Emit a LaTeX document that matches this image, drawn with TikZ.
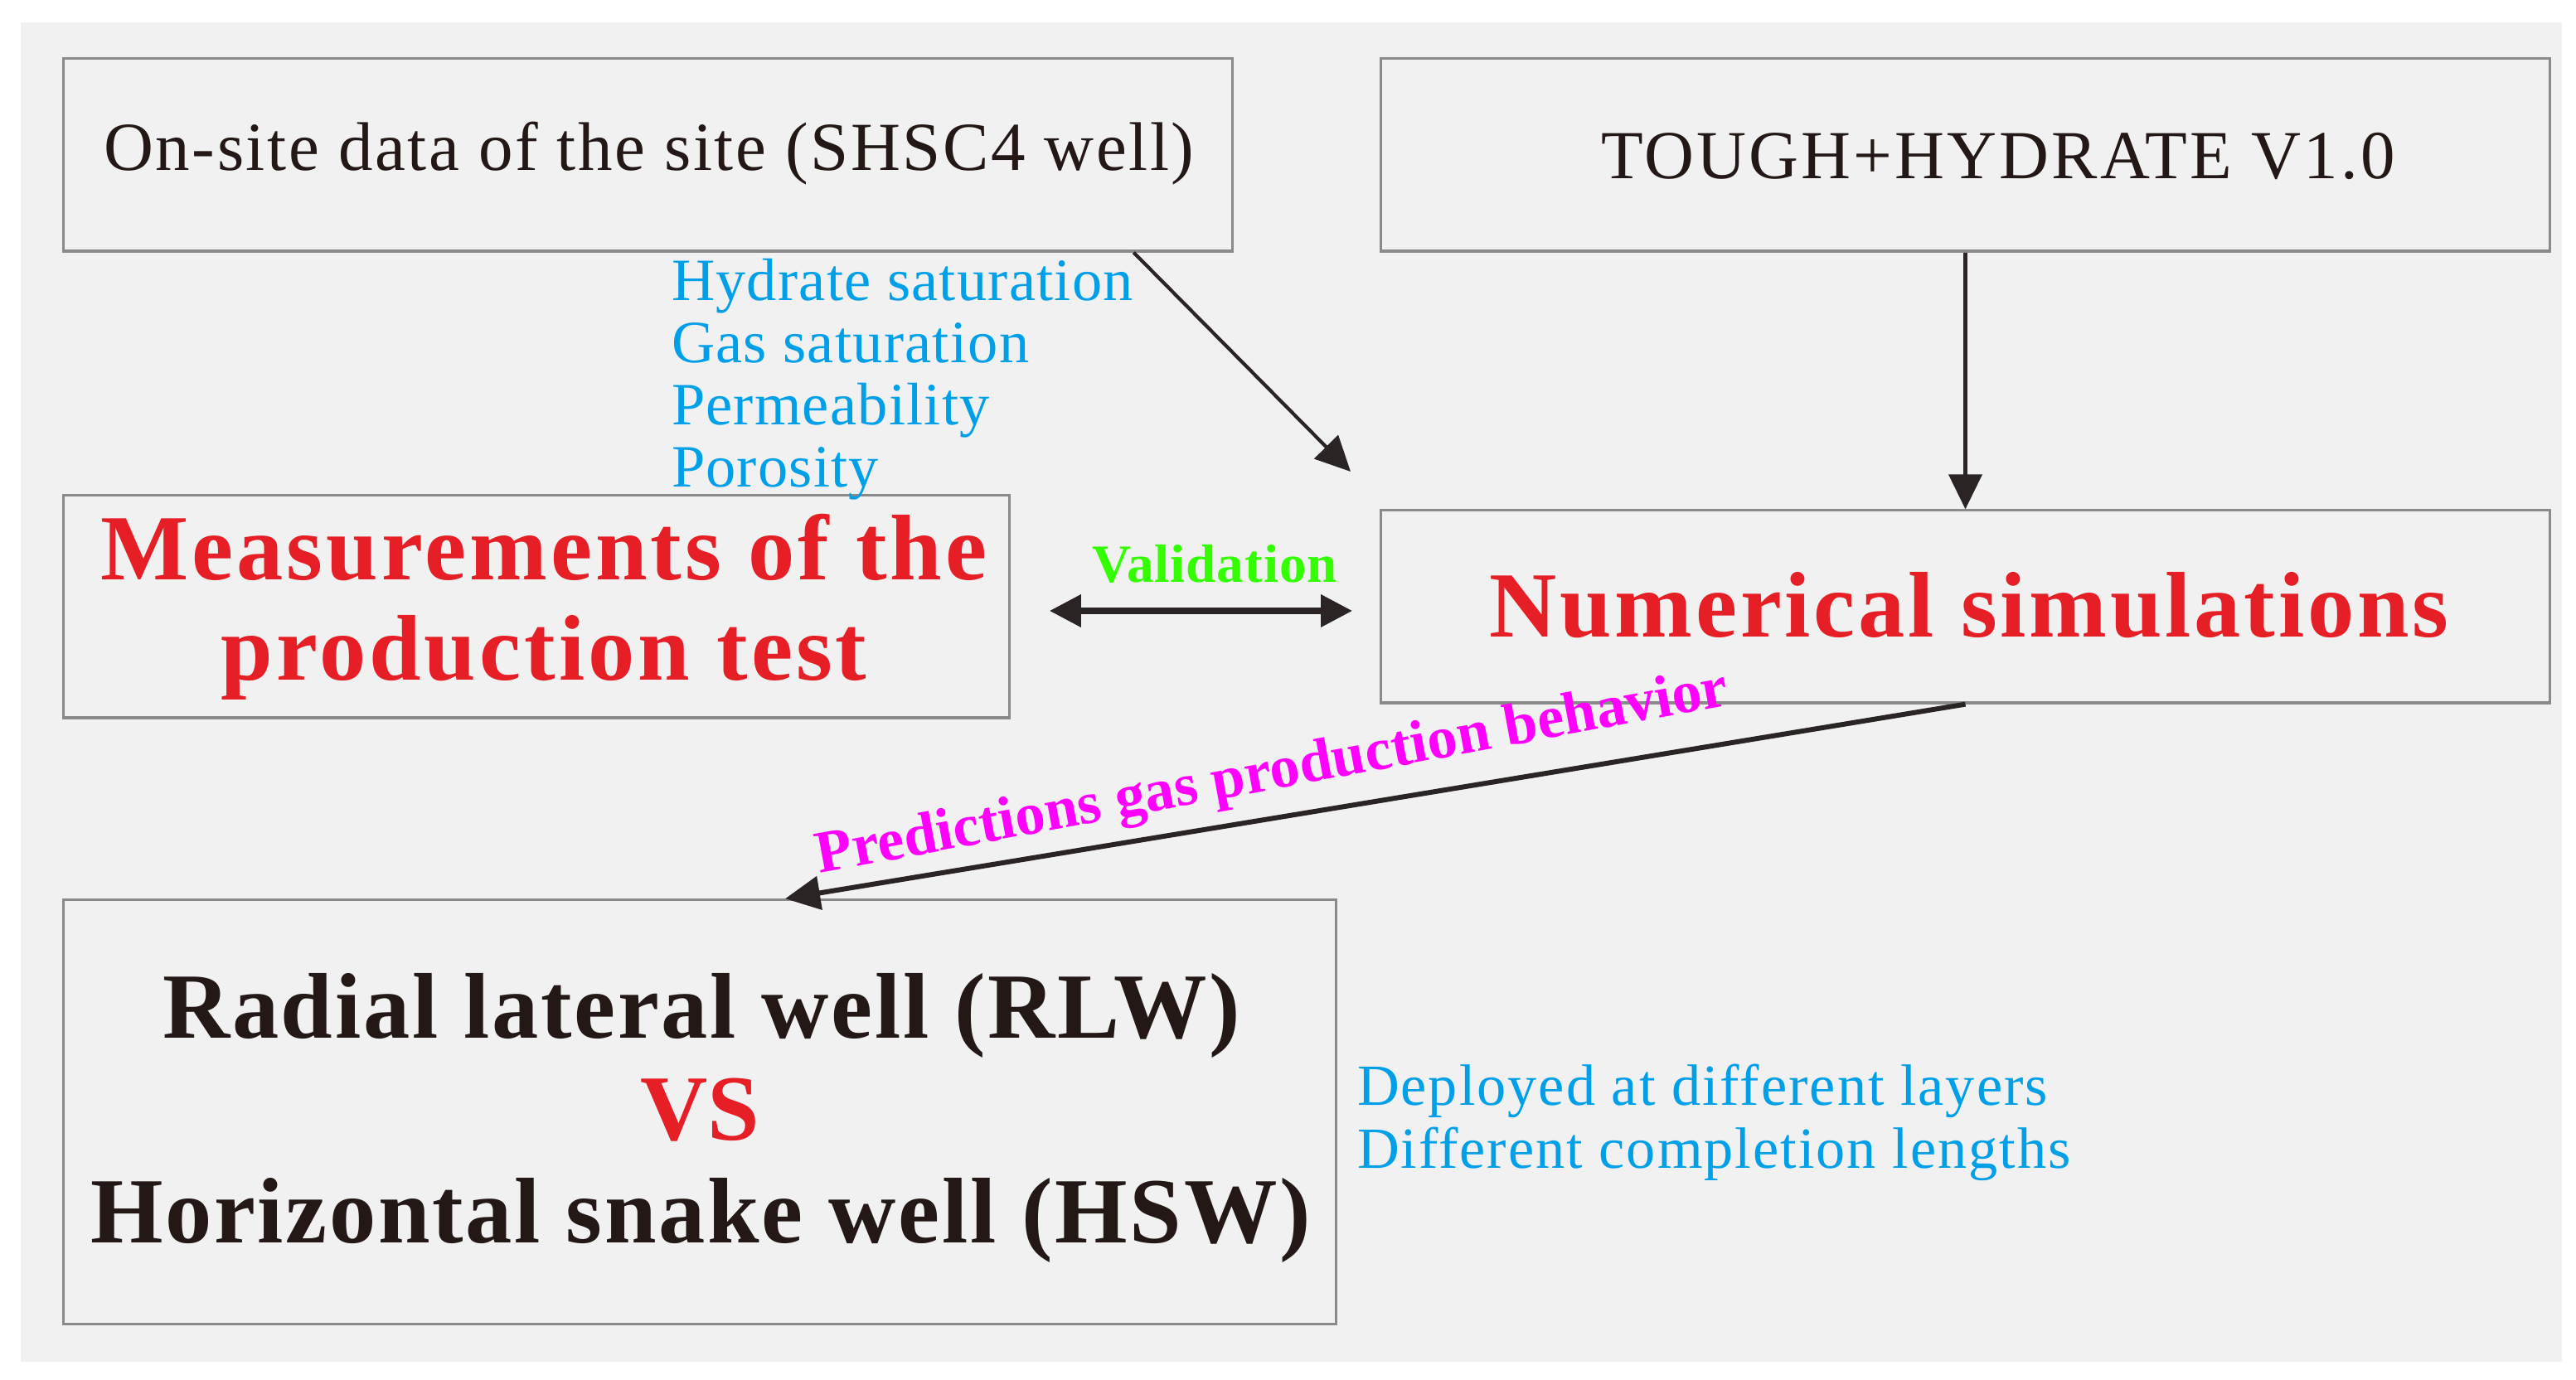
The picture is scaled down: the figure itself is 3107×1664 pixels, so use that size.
\documentclass[tikz,border=0pt]{standalone}
\usepackage{fontspec}
\setmainfont{Liberation Serif}
\usetikzlibrary{arrows.meta,calc}
\definecolor{bluet}{HTML}{00A0E9}
\definecolor{redt}{HTML}{E61F26}
\definecolor{darkt}{HTML}{231815}
\definecolor{greent}{HTML}{33FF00}
\definecolor{magt}{HTML}{FF00FF}
\definecolor{arrowc}{HTML}{2B2424}
\definecolor{boxline}{HTML}{8A8A8A}
\definecolor{panelA}{HTML}{F1F1F1}
\definecolor{panelB}{HTML}{FBFBFB}
\tikzset{
  box/.style={draw=boxline, line width=0.9pt, inner sep=0pt},
  txt/.style={anchor=base, inner sep=0pt, outer sep=0pt},
  lefttxt/.style={anchor=base west, inner sep=0pt, outer sep=0pt},
  smalltxt/.style={font=\fontsize{23.6}{28}\selectfont, text=darkt},
  bigred/.style={font=\fontsize{32}{36}\selectfont\bfseries\addfontfeature{LetterSpace=3.6}, text=redt},
  bigdark/.style={font=\fontsize{32}{36}\selectfont\bfseries\addfontfeature{LetterSpace=2.4}, text=darkt},
  bluenote/.style={font=\fontsize{20.6}{24}\selectfont\addfontfeature{LetterSpace=1.7}, text=bluet},
  conn/.style={draw=arrowc, line width=1.2pt, -{Triangle[length=0.42cm,width=0.40cm]}}
}
\begin{document}
\begin{tikzpicture}[x=0.01cm,y=0.01cm]
\useasboundingbox (0,0) rectangle (3107,1664);
\fill[white] (0,0) rectangle (3107,1664);
\shade[top color=panelA, middle color=panelB, bottom color=panelA] (25,22) rectangle (3090,1636);

% boxes
\node[box, minimum width=14.09cm, minimum height=2.32cm] (b1) at (781.5,1477) {};
\node[box, minimum width=14.09cm, minimum height=2.32cm] (b2) at (2370.5,1477) {};
\node[box, minimum width=11.40cm, minimum height=2.68cm] (b3) at (647,932) {};
\node[box, minimum width=14.09cm, minimum height=2.32cm] (b4) at (2370.5,932) {};
\node[box, minimum width=15.34cm, minimum height=5.11cm] (b5) at (844,322.5) {};

% box texts
\node[txt, smalltxt, font=\fontsize{23.6}{28}\selectfont\addfontfeature{LetterSpace=3.0}] (t1) at (783,1458) {On-site data of the site (SHSC4 well)};
\node[txt, smalltxt, font=\fontsize{23.6}{28}\selectfont\addfontfeature{LetterSpace=3.8}] (t2) at (2410,1448) {TOUGH+HYDRATE V1.0};
\node[txt, bigred] (t3a) at (656,964) {Measurements of the};
\node[txt, bigred] (t3b) at (656,843) {production test};
\node[txt, bigred, font=\fontsize{32}{36}\selectfont\bfseries\addfontfeature{LetterSpace=3.4}] (t4) at (2375,895) {Numerical simulations};
\node[txt, bigdark] (t5a) at (846,411) {Radial lateral well (RLW)};
\node[txt, bigred, font=\fontsize{32}{36}\selectfont\bfseries] (t5b) at (844,288) {VS};
\node[txt, bigdark] (t5c) at (845,164) {Horizontal snake well (HSW)};

% blue notes
\node[lefttxt, bluenote] (n1) at (810,1301) {Hydrate saturation};
\node[lefttxt, bluenote] (n2) at (810,1226) {Gas saturation};
\node[lefttxt, bluenote] (n3) at (810,1151) {Permeability};
\node[lefttxt, bluenote] (n4) at (810,1076) {Porosity};
\node[lefttxt, bluenote, font=\fontsize{20}{24}\selectfont\addfontfeature{LetterSpace=2.8}] (n5) at (1637,330) {Deployed at different layers};
\node[lefttxt, bluenote, font=\fontsize{20}{24}\selectfont\addfontfeature{LetterSpace=2.8}] (n6) at (1637,254) {Different completion lengths};

% connectors
\coordinate (p1) at (1629,1095);
\draw[conn] ([xshift=5.855cm]b1.south) -- (p1);
\draw[conn] (b2.south) -- (b4.north);
\draw[draw=arrowc, line width=2pt, {Triangle[length=0.38cm,width=0.38cm]}-{Triangle[length=0.38cm,width=0.38cm]}]
  ($(b3.east)+(47,-5)$) -- ($(b4.west)+(-33,-5)$);
\node[txt, font=\fontsize{18.5}{22}\selectfont\bfseries\addfontfeature{LetterSpace=1.5}, text=greent] (val) at (1465,961) {Validation};
\draw[conn, line width=1.7pt] (b4.south) -- ([xshift=1.03cm]b5.north);
\node[txt, rotate=10.5, font=\fontsize{20.5}{24}\selectfont\bfseries\addfontfeature{LetterSpace=0.2}, text=magt] (pl) at (1538,712) {Predictions gas production behavior};
\end{tikzpicture}
\end{document}
